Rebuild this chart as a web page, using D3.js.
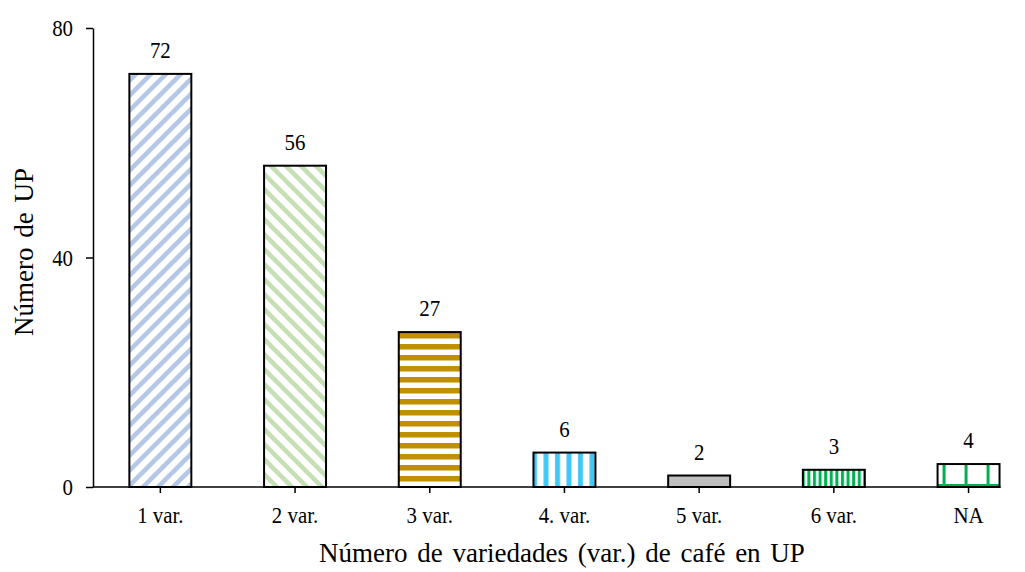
<!DOCTYPE html>
<html><head><meta charset="utf-8">
<script src="https://cdn.jsdelivr.net/npm/d3@7"></script>
<style>body{margin:0;background:#fff}svg{display:block}text{font-family:"Liberation Serif","Times New Roman",serif}</style>
</head><body><svg id="c" width="1025" height="572"></svg>
<script>
const categories = ["1 var.","2 var.","3 var.","4. var.","5 var.","6 var.","NA"];
const values = [72,56,27,6,2,3,4];
const yTicks = [0,40,80];
const yTitle = "Número de UP";
const xTitle = "Número de variedades (var.) de café en UP";

(function(){
const svg = d3.select("#c");
const defs = svg.append("defs");
const mLeft = 93, mBottom = 487, mTop = 28, step = 134.7;
const sx = 0.87;
const x = d3.scaleBand().domain(categories).range([mLeft, mLeft + step*categories.length]).paddingInner(0.54).paddingOuter(0.27);
const y = d3.scaleLinear().domain([0,80]).range([mBottom, mTop]);

function pat(id, w, h, draw){
  const p = defs.append("pattern").attr("id", id).attr("patternUnits","userSpaceOnUse").attr("width", w).attr("height", h);
  p.append("rect").attr("width", w).attr("height", h).attr("fill", "#fff");
  draw(p);
  return p;
}
pat("p0", 15, 15, p => {
  p.append("path").attr("d","M0,15 L15,0 M-4,4 L4,-4 M11,19 L19,11").attr("stroke","#b4c7e7").attr("stroke-width",4.5);
});
pat("p1", 15, 15, p => {
  p.append("path").attr("d","M0,0 L15,15 M-4,11 L4,19 M11,-4 L19,4").attr("stroke","#c5e0b4").attr("stroke-width",4.5);
});
pat("p2", 10, 11, p => {
  p.append("rect").attr("y",3).attr("width",10).attr("height",5.5).attr("fill","#bf9000");
});
pat("p3", 11.5, 10, p => {
  p.append("rect").attr("x",3).attr("width",5).attr("height",10).attr("fill","#3fc8f6");
});
pat("p4", 10, 10, p => { p.select("rect").attr("fill","#bfbfbf"); });
pat("p5", 5.6, 10, p => {
  p.append("rect").attr("x",1).attr("width",3).attr("height",10).attr("fill","#00b050");
});
pat("p6", 22, 22, p => {
  p.append("rect").attr("x",5).attr("width",3).attr("height",22).attr("fill","#00b050");
  p.append("rect").attr("y",17).attr("width",22).attr("height",3).attr("fill","#00b050");
}).attr("x", x("NA")).attr("y", mBottom - 22 + 2);

svg.append("g").selectAll("rect").data(values).join("rect")
  .attr("x",(d,i)=>x(categories[i]))
  .attr("y",d=>y(d))
  .attr("width",x.bandwidth())
  .attr("height",d=>mBottom - y(d))
  .attr("fill",(d,i)=>`url(#p${i})`)
  .attr("stroke","#000").attr("stroke-width",2);

svg.append("g").selectAll("text").data(values).join("text")
  .attr("transform",(d,i)=>`translate(${x(categories[i]) + x.bandwidth()/2},${y(d) - 16}) scale(${sx},1)`)
  .attr("text-anchor","middle").attr("font-size",24).attr("fill","#000")
  .text(d=>d);

const ya = svg.append("g").attr("transform",`translate(${mLeft},0)`)
  .call(d3.axisLeft(y).tickValues(yTicks).tickSize(7).tickPadding(0).tickSizeOuter(0));
ya.select(".domain").attr("stroke","#000").attr("stroke-width",1.5);
ya.selectAll(".tick line").attr("stroke","#000").attr("stroke-width",1.5);
ya.selectAll("text").attr("x",null).attr("transform",`translate(-20,0) scale(${sx},1)`)
  .attr("font-size",24).attr("font-family","Liberation Serif").attr("fill","#000");

const xa = svg.append("g").attr("transform",`translate(0,${mBottom})`)
  .call(d3.axisBottom(x).tickSize(6).tickPadding(0).tickSizeOuter(0));
xa.select(".domain").attr("stroke","#000").attr("stroke-width",1.5)
  .attr("d",`M${mLeft},0H${x("NA")+x.bandwidth()+1}`);
xa.selectAll(".tick line").attr("stroke","#000").attr("stroke-width",1.5);
xa.selectAll("text").attr("y",null).attr("dy",null).attr("transform",`translate(0,36) scale(${sx},1)`)
  .attr("font-size",24).attr("font-family","Liberation Serif").attr("fill","#000");

svg.append("text").attr("x",562).attr("y",562).attr("text-anchor","middle").attr("font-size",27)
  .attr("word-spacing",3).text(xTitle);
svg.append("text").attr("transform","translate(33,252) rotate(-90)").attr("text-anchor","middle").attr("font-size",27)
  .attr("word-spacing",3).text(yTitle);
})();
</script></body></html>
